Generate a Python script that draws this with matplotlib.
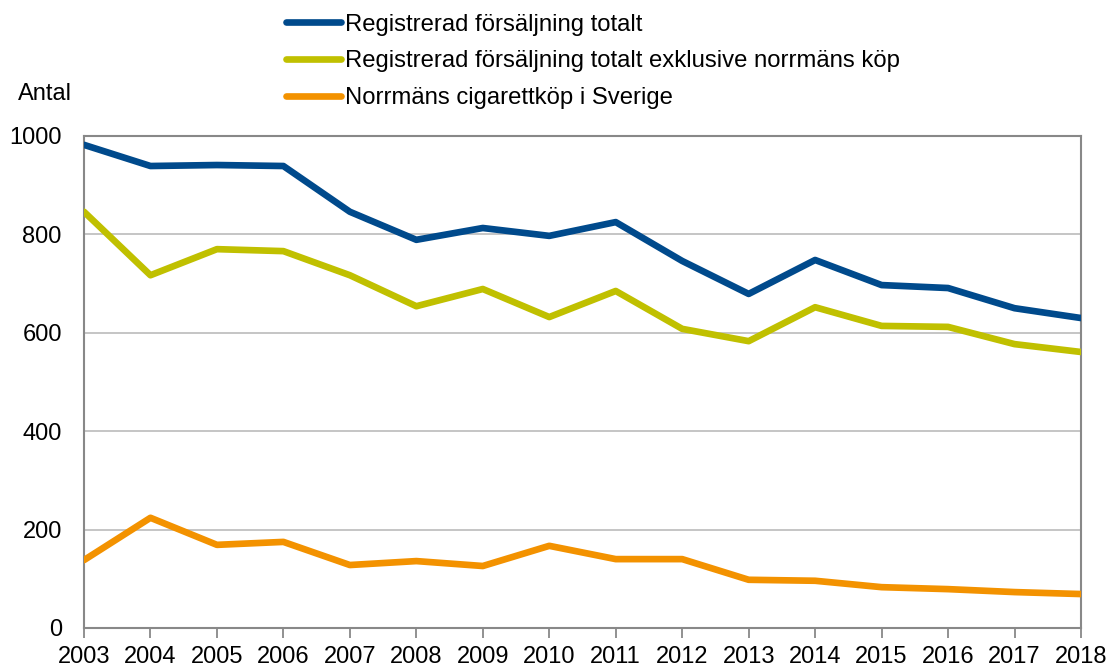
import matplotlib.pyplot as plt
from matplotlib.lines import Line2D

plt.rcParams['font.family'] = ['Liberation Sans', 'DejaVu Sans']

years = list(range(2003, 2019))
totalt = [982, 939, 941, 939, 846, 789, 813, 797, 825, 746, 679, 748, 697, 691, 650, 630]
exkl_norrman = [846, 717, 770, 766, 717, 654, 689, 632, 685, 608, 583, 652, 614, 612, 577, 561]
norrman = [138, 224, 169, 175, 128, 136, 126, 167, 140, 140, 98, 96, 83, 79, 73, 69]

labels = ['Registrerad försäljning totalt',
          'Registrerad försäljning totalt exklusive norrmäns köp',
          'Norrmäns cigarettköp i Sverige']
colors = ['#004a8c', '#c0c000', '#f39200']

fig = plt.figure(figsize=(11.1, 6.66), dpi=100)
ax = fig.add_axes([84/1110, 1 - 628/666, (1081-84)/1110, (628-136)/666])

for serie, c in zip([totalt, exkl_norrman, norrman], colors):
    ax.plot(years, serie, color=c, linewidth=4.8, solid_capstyle='round', zorder=3)

ax.set_xlim(2003, 2018)
ax.set_ylim(0, 1000)
ax.set_xticks(years)
ax.set_yticks(range(0, 1001, 200))
ax.grid(axis='y', color='#c0c0c0', linewidth=1.3)
for s in ax.spines.values():
    s.set_color('#888888')
    s.set_linewidth(1.5)
ax.tick_params(axis='x', length=7, width=1.3, color='#888888', labelsize=17, pad=6)
ax.tick_params(axis='y', length=0, labelsize=17, pad=16)

fig.text(18/1110, 1 - 94/666, 'Antal', fontsize=17, va='center', ha='left')

handles = [Line2D([0], [0], color=c, linewidth=4.8, solid_capstyle='round') for c in colors]
fig.legend(handles, labels, loc='upper left', bbox_to_anchor=(276/1110, 1 - 4/666),
           borderaxespad=0, frameon=False, fontsize=17.2, handlelength=2.3,
           handletextpad=0.2, labelspacing=0.62)

fig.savefig('out.png', dpi=100)
